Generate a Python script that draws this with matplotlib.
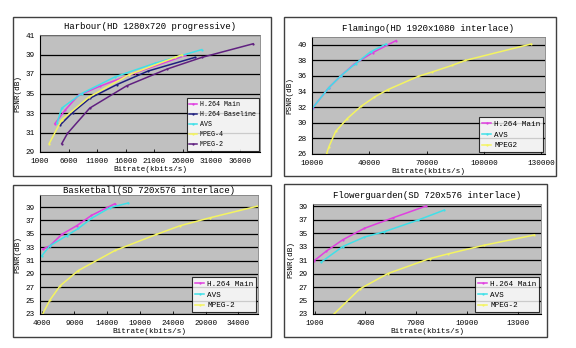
import matplotlib
matplotlib.use("Agg")
import matplotlib.pyplot as plt
from matplotlib.patches import Rectangle

plt.rcParams['font.family'] = ['Liberation Mono', 'DejaVu Sans Mono']

# Harbour (HD 1280x720 progressive)
harbour_main_x = [3600, 5400, 7700, 11500, 17600, 26400]
harbour_main_y = [31.9, 33.3, 34.8, 35.75, 37.1, 38.9]
harbour_base_x = [4500, 6700, 9700, 14400, 19900, 28100]
harbour_base_y = [31.75, 33.05, 34.5, 35.9, 37.3, 38.7]
harbour_avs_x = [4000, 4800, 8300, 14100, 21100, 29300]
harbour_avs_y = [32.0, 33.5, 35.0, 36.7, 38.1, 39.5]
harbour_mp4_x = [2600, 4800, 9500, 16500, 24600, 25800]
harbour_mp4_y = [29.85, 32.3, 34.6, 36.9, 38.7, 38.95]
harbour_mp2_x = [4800, 5800, 9700, 16200, 23200, 29300, 38300]
harbour_mp2_y = [29.85, 30.9, 33.5, 35.8, 37.5, 38.7, 40.1]

# Flamingo (HD 1920x1080 interlace)
flamingo_main_x = [10500, 18800, 25000, 32000, 41800, 54100]
flamingo_main_y = [31.96, 34.5, 36.0, 37.5, 39.0, 40.55]
flamingo_avs_x = [10000, 18800, 25000, 32900, 40700, 48800]
flamingo_avs_y = [31.8, 34.5, 36.0, 37.6, 39.1, 40.1]
flamingo_mp2_x = [17600, 18800, 22400, 28500, 35600, 42700, 49700,
                  65600, 72700, 83200, 90300, 124700]
flamingo_mp2_y = [26.0, 26.9, 28.9, 30.55, 32.1, 33.3, 34.25,
                  35.95, 36.5, 37.35, 38.0, 40.1]

# Basketball (SD 720x576 interlace)
basket_main_x = [4150, 5270, 7050, 9330, 11600, 15180]
basket_main_y = [32.7, 33.2, 34.9, 36.2, 37.75, 39.5]
basket_avs_x = [4000, 5270, 7800, 9600, 11600, 14400, 17200]
basket_avs_y = [31.7, 33.2, 34.7, 35.8, 37.3, 38.9, 39.6]
basket_mp2_x = [4150, 5270, 6800, 9590, 15200, 21500, 25100, 29700, 37000]
basket_mp2_y = [23.0, 25.1, 27.2, 29.5, 32.5, 34.9, 36.2, 37.4, 39.15]

# Flowerguarden (SD 720x576 interlace)
flower_main_x = [1850, 2580, 3560, 4840, 6520, 8490]
flower_main_y = [30.85, 32.3, 34.0, 35.7, 37.25, 39.0]
flower_avs_x = [2290, 3560, 4840, 6020, 7990, 9560]
flower_avs_y = [30.7, 33.0, 34.4, 35.2, 36.9, 38.4]
flower_mp2_x = [3040, 4560, 6230, 8690, 9770, 11930, 14880]
flower_mp2_y = [23.0, 26.7, 29.0, 31.2, 31.9, 33.2, 34.7]

MAGENTA = '#e040e0'
NAVY = '#202080'
CYAN = '#40e0e8'
YELLOW = '#f4f460'
PURPLE = '#602080'

fig = plt.figure(figsize=(5.76, 3.48), dpi=100)

# outer chart frames (pixel boxes: left, top, right, bottom)
frames = [(13, 17, 271, 176), (284, 17, 556, 176),
          (13, 185, 271, 337), (284, 184, 547, 337)]
for l, t, r, b in frames:
    fig.patches.append(Rectangle((l / 576, 1 - b / 348), (r - l) / 576, (b - t) / 348,
                                 transform=fig.transFigure, fill=False,
                                 edgecolor='#404040', linewidth=1.0))


def make_axes(l, t, r, b):
    ax = fig.add_axes([l / 576, 1 - b / 348, (r - l) / 576, (b - t) / 348])
    ax.set_facecolor('#c0c0c0')
    ax.grid(axis='y', color='black', linewidth=0.9)
    ax.set_axisbelow(True)
    for s in ('top', 'right'):
        ax.spines[s].set_color('#808080')
        ax.spines[s].set_linewidth(0.6)
    for s in ('left', 'bottom'):
        ax.spines[s].set_color('black')
        ax.spines[s].set_linewidth(0.8)
    ax.tick_params(labelsize=5.5, length=2, width=0.6, direction='in', pad=4)
    return ax


def series(ax, x, y, color, label):
    ax.plot(x, y, color=color, linewidth=1.1, marker='o', markersize=1.6,
            markeredgewidth=0, label=label)


def finish(ax, title, title_y, legend_size=5.5):
    ax.set_ylabel('PSNR(dB)', fontsize=5.5, labelpad=3)
    ax.set_xlabel('Bitrate(kbits/s)', fontsize=5.5, labelpad=1)
    ax.set_title(title, fontsize=6.5, pad=title_y)
    leg = ax.legend(loc='lower right', bbox_to_anchor=(1.0, 0.0), fontsize=legend_size,
                    frameon=True, fancybox=False, borderaxespad=0.2,
                    handlelength=1.2, handletextpad=0.4, labelspacing=0.45,
                    borderpad=0.4)
    leg.get_frame().set_edgecolor('black')
    leg.get_frame().set_linewidth(0.8)


ax1 = make_axes(40, 35, 260, 152)
series(ax1, harbour_main_x, harbour_main_y, MAGENTA, 'H.264 Main')
series(ax1, harbour_base_x, harbour_base_y, NAVY, 'H.264 Baseline')
series(ax1, harbour_avs_x, harbour_avs_y, CYAN, 'AVS')
series(ax1, harbour_mp4_x, harbour_mp4_y, YELLOW, 'MPEG-4')
series(ax1, harbour_mp2_x, harbour_mp2_y, PURPLE, 'MPEG-2')
ax1.set_xlim(1000, 39500)
ax1.set_ylim(29, 41)
ax1.set_xticks(range(1000, 36001, 5000))
ax1.set_yticks(range(29, 42, 2))
finish(ax1, 'Harbour(HD 1280x720 progressive)', 4, legend_size=4.8)

ax2 = make_axes(312, 37, 545, 154)
series(ax2, flamingo_main_x, flamingo_main_y, MAGENTA, 'H.264 Main')
series(ax2, flamingo_avs_x, flamingo_avs_y, CYAN, 'AVS')
series(ax2, flamingo_mp2_x, flamingo_mp2_y, YELLOW, 'MPEG2')
ax2.set_xlim(10000, 132000)
ax2.set_ylim(26, 41)
ax2.set_xticks(range(10000, 130001, 30000))
ax2.set_yticks(range(26, 41, 2))
finish(ax2, 'Flamingo(HD 1920x1080 interlace)', 4)

ax3 = make_axes(40, 195, 258, 314)
series(ax3, basket_main_x, basket_main_y, MAGENTA, 'H.264 Main')
series(ax3, basket_avs_x, basket_avs_y, CYAN, 'AVS')
series(ax3, basket_mp2_x, basket_mp2_y, YELLOW, 'MPEG-2')
ax3.set_xlim(3750, 37000)
ax3.set_ylim(23, 40.8)
ax3.set_xticks(range(4000, 34001, 5000))
ax3.set_yticks(range(23, 40, 2))
finish(ax3, 'Basketball(SD 720x576 interlace)', 1)

ax4 = make_axes(313, 204, 541, 314)
series(ax4, flower_main_x, flower_main_y, MAGENTA, 'H.264 Main')
series(ax4, flower_avs_x, flower_avs_y, CYAN, 'AVS')
series(ax4, flower_mp2_x, flower_mp2_y, YELLOW, 'MPEG-2')
ax4.set_xlim(1800, 15280)
ax4.set_ylim(23, 39.3)
ax4.set_xticks(range(1900, 13901, 3000))
ax4.set_yticks(range(23, 40, 2))
finish(ax4, 'Flowerguarden(SD 720x576 interlace)', 4)

fig.savefig('out.png', dpi=100, facecolor='white')
